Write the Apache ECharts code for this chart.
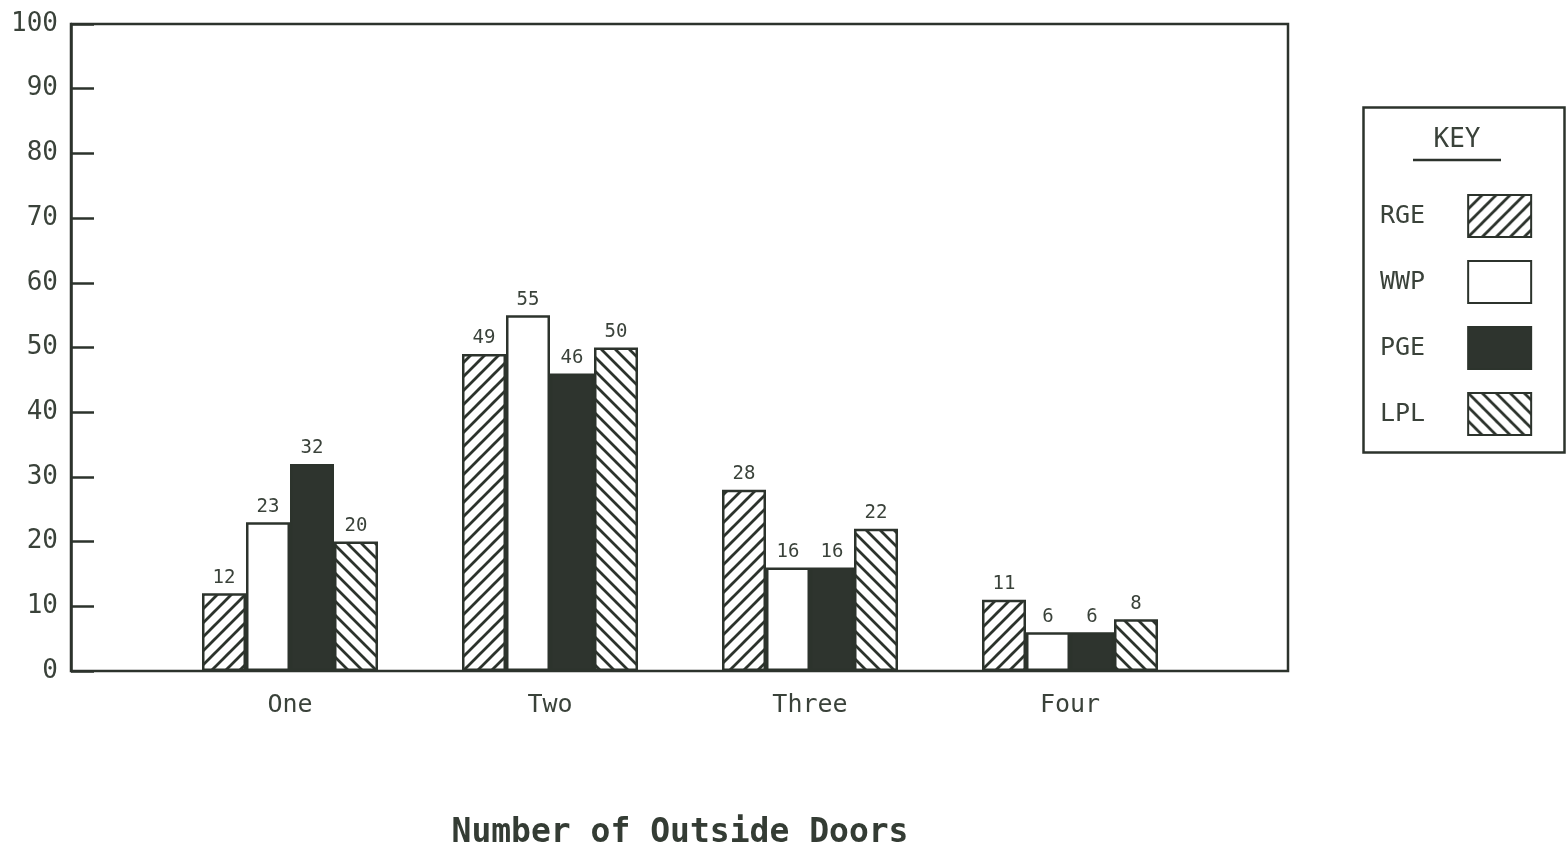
<!DOCTYPE html>
<html>
<head>
<meta charset="utf-8">
<title>Number of Outside Doors</title>
<script src="https://cdn.jsdelivr.net/npm/echarts@6/dist/echarts.min.js"></script>
<style>
  html, body { margin: 0; padding: 0; background: #ffffff; }
  #chart { width: 1567px; height: 852px; }
</style>
</head>
<body>
<div id="chart"></div>
<script>
// Share of homes by number of outside doors, per utility
const categories = ['One', 'Two', 'Three', 'Four'];
const seriesNames = ['RGE', 'WWP', 'PGE', 'LPL'];
const rgeValues = [12, 49, 28, 11];
const wwpValues = [23, 55, 16, 6];
const pgeValues = [32, 46, 16, 6];
const lplValues = [20, 50, 22, 8];
const yTicks = [0, 10, 20, 30, 40, 50, 60, 70, 80, 90, 100];
const axisTitle = 'Number of Outside Doors';
const keyTitle = 'KEY';

const INK = '#2c332c';
const TEXT = '#3a423a';
const MONO = '"DejaVu Sans Mono", "Liberation Mono", monospace';

// Diagonal hatch tile; dir = 1 draws "/" lines, dir = -1 draws "\" lines
function hatch(dir) {
  const s = 14;
  const c = document.createElement('canvas');
  c.width = s; c.height = s;
  const ctx = c.getContext('2d');
  ctx.fillStyle = '#ffffff';
  ctx.fillRect(0, 0, s, s);
  ctx.strokeStyle = INK;
  ctx.lineWidth = 2.8;
  ctx.lineCap = 'square';
  ctx.beginPath();
  if (dir > 0) {
    ctx.moveTo(0, s); ctx.lineTo(s, 0);
    ctx.moveTo(-2, 2); ctx.lineTo(2, -2);
    ctx.moveTo(s - 2, s + 2); ctx.lineTo(s + 2, s - 2);
  } else {
    ctx.moveTo(0, 0); ctx.lineTo(s, s);
    ctx.moveTo(s - 2, -2); ctx.lineTo(s + 2, 2);
    ctx.moveTo(-2, s - 2); ctx.lineTo(2, s + 2);
  }
  ctx.stroke();
  return { image: c, repeat: 'repeat' };
}

const fills = [hatch(1), '#ffffff', '#2e342e', hatch(-1)];
const seriesValues = [rgeValues, wwpValues, pgeValues, lplValues];

const chart = echarts.init(document.getElementById('chart'), null, { renderer: 'canvas' });

const option = {
  backgroundColor: '#ffffff',
  animation: false,
  grid: [
    // bar area
    { left: 160, right: 367, top: 24, bottom: 181, outerBoundsMode: 'none', containLabel: false },
    // framed plot box carrying the value scale
    { left: 71, right: 279, top: 24, bottom: 181, outerBoundsMode: 'none', containLabel: false,
      show: true, borderColor: INK, borderWidth: 2.5, backgroundColor: 'transparent' }
  ],
  xAxis: [
    {
      gridIndex: 0, type: 'category', data: categories,
      axisLine: { show: false }, axisTick: { show: false },
      axisLabel: { margin: 22, fontFamily: MONO, fontSize: 25, color: TEXT },
      name: axisTitle, nameLocation: 'middle', nameGap: 146,
      nameTextStyle: { fontFamily: MONO, fontWeight: 'bold', fontSize: 33, color: '#343c34' }
    },
    { gridIndex: 1, type: 'value', min: 0, max: 1, show: false }
  ],
  yAxis: [
    { gridIndex: 0, type: 'value', min: 0, max: 100, show: false },
    {
      gridIndex: 1, type: 'value', min: yTicks[0], max: yTicks[yTicks.length - 1], interval: 10,
      axisLine: { show: true, lineStyle: { color: INK, width: 2.5 } },
      axisTick: { show: true, inside: true, length: 23, lineStyle: { color: INK, width: 2.5 } },
      splitLine: { show: false },
      axisLabel: { margin: 13, fontFamily: MONO, fontSize: 26, color: TEXT }
    }
  ],
  legend: {
    orient: 'vertical',
    left: 1375, top: 189,
    align: 'right',
    icon: 'rect',
    itemWidth: 63, itemHeight: 42, itemGap: 22,
    selectedMode: false,
    data: seriesNames,
    textStyle: { fontFamily: MONO, fontSize: 25, color: TEXT, padding: [0, 38, 0, 0] }
  },
  graphic: [
    { type: 'rect', left: 1361, top: 105,
      shape: { width: 201, height: 345 },
      style: { fill: 'none', stroke: INK, lineWidth: 2.5 }, z: 10 },
    { type: 'text', x: 1457, y: 140,
      style: { text: keyTitle, fontFamily: MONO, fontSize: 26, fill: TEXT,
               textAlign: 'center', textVerticalAlign: 'middle' }, z: 10 },
    { type: 'line', shape: { x1: 1413, y1: 160, x2: 1501, y2: 160 },
      style: { stroke: INK, lineWidth: 2.5 }, z: 10 }
  ],
  series: seriesNames.map((name, i) => ({
    name: name,
    type: 'bar',
    xAxisIndex: 0, yAxisIndex: 0,
    data: seriesValues[i],
    barWidth: 44,
    barGap: '0%',
    itemStyle: { color: fills[i], borderColor: INK, borderWidth: 2.5 },
    label: {
      show: true, position: 'top', distance: 6,
      fontFamily: MONO, fontSize: 19, color: TEXT
    }
  }))
};

chart.setOption(option);
</script>
</body>
</html>
